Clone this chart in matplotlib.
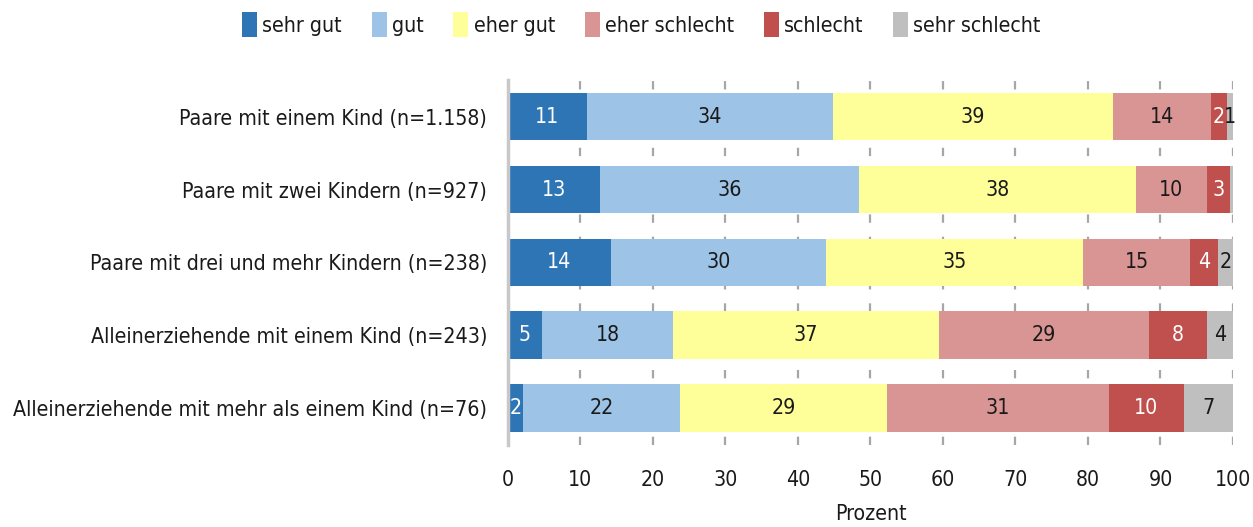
import matplotlib.pyplot as plt
import numpy as np

plt.rcParams["font.family"] = ["DejaVu Sans"]
plt.rcParams["font.stretch"] = "condensed"
plt.rcParams["lines.scale_dashes"] = False

categories = [
    "Paare mit einem Kind (n=1.158)",
    "Paare mit zwei Kindern (n=927)",
    "Paare mit drei und mehr Kindern (n=238)",
    "Alleinerziehende mit einem Kind (n=243)",
    "Alleinerziehende mit mehr als einem Kind (n=76)",
]
ratings = ["sehr gut", "gut", "eher gut", "eher schlecht", "schlecht", "sehr schlecht"]
sehr_gut = [10.9, 12.7, 14.2, 4.7, 2.1]
gut = [33.9, 35.7, 29.7, 18.1, 21.6]
eher_gut = [38.6, 38.2, 35.4, 36.6, 28.6]
eher_schlecht = [13.6, 9.8, 14.8, 29.0, 30.6]
schlecht = [2.2, 3.2, 3.8, 8.0, 10.3]
sehr_schlecht = [0.8, 0.4, 2.1, 3.6, 6.8]

colors = ["#2e75b6", "#9dc3e6", "#ffff99", "#d99594", "#c0504d", "#bfbfbf"]
label_colors = ["white", "#1a1a1a", "#1a1a1a", "#1a1a1a", "white", "#1a1a1a"]

series = [sehr_gut, gut, eher_gut, eher_schlecht, schlecht, sehr_schlecht]
fs = 15.3

fig = plt.figure(figsize=(12.53, 5.27), dpi=100)
ax = fig.add_axes([0.4054, 0.156, 0.5786, 0.692])

y = np.arange(len(categories))
left = np.zeros(len(categories))
for name, vals, col, tcol in zip(ratings, series, colors, label_colors):
    vals = np.array(vals)
    ax.barh(y, vals, left=left, height=0.655, color=col, label=name, zorder=2)
    for yi, l, v in zip(y, left, vals):
        if round(v) >= 1:
            ax.text(l + v / 2, yi, f"{v:.0f}", ha="center", va="center",
                    color=tcol, fontsize=fs, zorder=3)
    left += vals

ax.set_xlim(0, 100)
ax.set_ylim(4.5, -0.5)
ax.set_xticks(np.arange(0, 101, 10))
ax.set_yticks(y)
ax.set_yticklabels(categories)
ax.tick_params(axis="y", length=0, pad=15, labelsize=fs, labelcolor="#1a1a1a")
ax.tick_params(axis="x", length=0, pad=18, labelsize=fs, labelcolor="#1a1a1a")
ax.set_xlabel("Prozent", fontsize=fs, color="#1a1a1a", labelpad=10)

ax.grid(axis="x", color="#a6a6a6", linewidth=1.6, dashes=(6, 10), zorder=0)
ax.set_axisbelow(True)
for s in ["top", "right", "bottom"]:
    ax.spines[s].set_visible(False)
ax.spines["left"].set_color("#c8c8c8")
ax.spines["left"].set_linewidth(2.5)

fig.legend(loc="center", bbox_to_anchor=(0.512, 0.953), ncol=6, frameon=False,
           fontsize=fs, handlelength=0.7, handleheight=1.4, handletextpad=0.25,
           columnspacing=1.4, labelcolor="#1a1a1a")

fig.savefig("out.png", dpi=100)
